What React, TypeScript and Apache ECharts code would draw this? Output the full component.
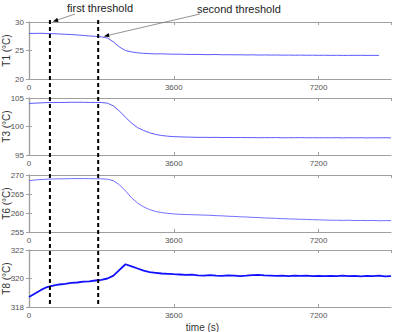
import React, { useEffect, useRef } from "react";
import * as echarts from "echarts";

const times = [0,150,300,450,600,750,900,1050,1200,1350,1500,1650,1800,1950,2100,2250,2400,2550,2700,2850,3000,3150,3300,3450,3600,3750,3900,4050,4200,4350,4500,4650,4800,4950,5100,5250,5400,5550,5700,5850,6000,6150,6300,6450,6600,6750,6900,7050,7200,7350,7500,7650,7800,7950,8100,8250,8400,8550,8700,8850,9000];

const t1 = [28.0,28.0,28.02,27.98,27.95,27.9,27.85,27.8,27.72,27.65,27.55,27.48,27.4,27.2,26.5,25.6,25.0,24.75,24.6,24.5,24.45,24.4,24.42,24.38,24.35,24.36,24.32,24.3,24.32,24.28,24.27,24.3,24.25,24.26,24.24,24.25,24.22,24.24,24.2,24.22,24.2,24.21,24.18,24.2,24.17,24.19,24.16,24.18,24.15,24.17,24.14,24.16,24.13,24.15,24.14,24.16,24.13,24.15,24.14,null,null];

const t3 = [104.05,104.1,104.15,104.2,104.2,104.22,104.22,104.25,104.25,104.25,104.22,104.22,104.2,104.1,103.6,102.7,101.6,100.6,99.8,99.3,98.9,98.6,98.42,98.3,98.22,98.18,98.15,98.12,98.1,98.1,98.08,98.1,98.06,98.08,98.05,98.07,98.05,98.06,98.03,98.05,98.04,98.06,98.02,98.04,98.03,98.05,98.02,98.04,98.01,98.03,98.02,98.04,98.0,98.03,98.01,98.03,98.0,98.02,98.01,98.03,98.0];

const t6 = [268.5,268.7,268.8,268.9,268.95,269.0,269.0,269.05,269.05,269.05,269.05,269.0,269.0,268.9,268.5,267.4,265.8,264.0,262.6,261.6,260.9,260.4,260.1,259.9,259.75,259.65,259.6,259.55,259.5,259.45,259.4,259.3,259.25,259.15,259.1,259.0,258.95,258.85,258.8,258.7,258.65,258.6,258.5,258.45,258.4,258.35,258.3,258.25,258.2,258.15,258.1,258.1,258.05,258.1,258.0,258.05,258.0,258.05,257.95,258.0,258.0];

const t8 = [318.7,318.95,319.2,319.4,319.5,319.58,319.63,319.7,319.72,319.78,319.8,319.86,319.9,320.0,320.2,320.6,321.0,320.85,320.7,320.55,320.45,320.4,320.35,320.33,320.3,320.28,320.25,320.27,320.22,320.2,320.23,320.2,320.18,320.22,320.2,320.17,320.2,320.24,320.26,320.22,320.2,320.18,320.2,320.17,320.2,320.18,320.2,320.17,320.19,320.16,320.18,320.17,320.2,320.16,320.18,320.15,320.18,320.16,320.2,320.15,320.17];

const yNames = ["T1 (°C)", "T3 (°C)", "T6 (°C)", "T8 (°C)"];
const yMins = [20, 95, 255, 318];
const yMaxs = [30, 105, 270, 322];
const yIntervals = [5, 5, 5, 2];
const xTicks = 3600;
const xMax = 9000;
const thresholds = [520, 1720];
const thresholdLabels = ["first threshold", "second threshold"];

const seriesValues = [t1, t3, t6, t8];
const lineColors = ["#5a5aff", "#5a5aff", "#7070ff", "#1010ff"];
const lineWidths = [1, 1, 1, 1.8];

const gridTops = [22, 98, 175, 250];
const gridH = 57;

export default function App() {
  const ref = useRef<HTMLDivElement>(null);
  useEffect(() => {
    if (!ref.current) return;
    const chart = echarts.init(ref.current, null, { renderer: "svg" });
    const axisColor = "#a0a0a0";
    const grids = gridTops.map((t) => ({ left: 29, right: 5, top: t, height: gridH, containLabel: false, outerBoundsMode: "none" }));
    const xAxis: any[] = [];
    const yAxis: any[] = [];
    gridTops.forEach((_, i) => {
      xAxis.push({
        type: "value", gridIndex: i, min: 0, max: xMax, interval: xTicks, position: "bottom",
        axisLine: { show: true, lineStyle: { color: axisColor, width: 1.2 } },
        axisTick: { show: true, inside: true, length: 3, lineStyle: { color: axisColor } },
        axisLabel: { show: true, fontSize: 8, color: "#555", margin: 4, showMaxLabel: false, fontFamily: "Liberation Sans", formatter: (v: number) => String(v) },
        splitLine: { show: false },
        ...(i === 3 ? { name: "time (s)", nameLocation: "middle", nameGap: 15, nameMoveOverlap: false, nameTextStyle: { fontSize: 10, color: "#333", fontFamily: "Liberation Sans", padding: [0, 15, 0, 0] } } : {}),
      });
      xAxis.push({
        type: "value", gridIndex: i, min: 0, max: xMax, interval: xTicks, position: "top",
        axisLine: { show: true, lineStyle: { color: axisColor, width: 1.2 } },
        axisTick: { show: true, inside: true, length: 3, lineStyle: { color: axisColor } },
        axisLabel: { show: false }, splitLine: { show: false },
      });
      yAxis.push({
        type: "value", gridIndex: i, min: yMins[i], max: yMaxs[i], interval: yIntervals[i], position: "left",
        axisLine: { show: true, lineStyle: { color: axisColor, width: 1.2 } },
        axisTick: { show: true, inside: true, length: 3, lineStyle: { color: axisColor } },
        axisLabel: { show: true, fontSize: 8, color: "#555", margin: 5, fontFamily: "Liberation Sans", formatter: (v: number) => String(v) },
        splitLine: { show: false },
        name: yNames[i], nameLocation: "middle", nameRotate: 90, nameGap: 18, nameMoveOverlap: false,
        nameTextStyle: { fontSize: 10, color: "#333", fontFamily: "Liberation Sans" },
      });
      yAxis.push({
        type: "value", gridIndex: i, min: yMins[i], max: yMaxs[i], interval: yIntervals[i], position: "right",
        axisLine: { show: true, lineStyle: { color: axisColor, width: 1.2 } },
        axisTick: { show: true, inside: true, length: 3, lineStyle: { color: axisColor } },
        axisLabel: { show: false }, splitLine: { show: false },
      });
    });
    const series = seriesValues.map((vals, i) => ({
      type: "line",
      xAxisIndex: 2 * i,
      yAxisIndex: 2 * i,
      showSymbol: false,
      symbol: "none",
      lineStyle: { color: lineColors[i], width: lineWidths[i] },
      data: times.map((t, k) => [t, vals[k]]).filter((p) => p[1] !== null),
    }));
    chart.setOption({
      animation: false,
      backgroundColor: "#fff",
      grid: grids,
      xAxis,
      yAxis,
      series,
    });

    const xa = thresholds.map((t) => chart.convertToPixel({ xAxisIndex: 0 }, t) as number);
    const yTop = (chart.convertToPixel({ yAxisIndex: 0 }, yMaxs[0]) as number) - 2;
    const yBot = chart.convertToPixel({ yAxisIndex: 6 }, yMins[3]) as number;
    const tip1 = chart.convertToPixel({ xAxisIndex: 0, yAxisIndex: 0 }, [600, 30.1]) as number[];
    const tip2 = chart.convertToPixel({ xAxisIndex: 0, yAxisIndex: 0 }, [1870, 27.5]) as number[];
    const tail1 = [75, 14];
    const tail2 = [200, 14];
    const arrowHead = (tip: number[], tail: number[]) => {
      const dx = tail[0] - tip[0], dy = tail[1] - tip[1];
      const len = Math.hypot(dx, dy);
      const ux = dx / len, uy = dy / len;
      const L = 5, W = 2.2;
      const bx = tip[0] + ux * L, by = tip[1] + uy * L;
      return [[tip[0], tip[1]], [bx - uy * W, by + ux * W], [bx + uy * W, by - ux * W]];
    };
    chart.setOption({
      graphic: [
        ...xa.map((x) => ({
          type: "line", shape: { x1: x, y1: yTop, x2: x, y2: yBot },
          style: { stroke: "#000", lineWidth: 2, lineDash: [4, 3] }, z: 100,
        })),
        { type: "line", shape: { x1: tip1[0], y1: tip1[1], x2: tail1[0], y2: tail1[1] }, style: { stroke: "#777", lineWidth: 0.8 }, z: 100 },
        { type: "polygon", shape: { points: arrowHead(tip1, tail1) }, style: { fill: "#000" }, z: 100 },
        { type: "line", shape: { x1: tip2[0], y1: tip2[1], x2: tail2[0], y2: tail2[1] }, style: { stroke: "#777", lineWidth: 0.8 }, z: 100 },
        { type: "polygon", shape: { points: arrowHead(tip2, tail2) }, style: { fill: "#000" }, z: 100 },
        { type: "text", left: 67, top: 2, style: { text: thresholdLabels[0], fontSize: 11, fill: "#222", fontFamily: "Liberation Sans" }, z: 100 },
        { type: "text", left: 197, top: 3, style: { text: thresholdLabels[1], fontSize: 11, fill: "#222", fontFamily: "Liberation Sans" }, z: 100 },
      ],
    });
    return () => chart.dispose();
  }, []);
  return <div ref={ref} style={{ position: "fixed", left: 0, top: 0, width: 396, height: 332 }} />;
}
